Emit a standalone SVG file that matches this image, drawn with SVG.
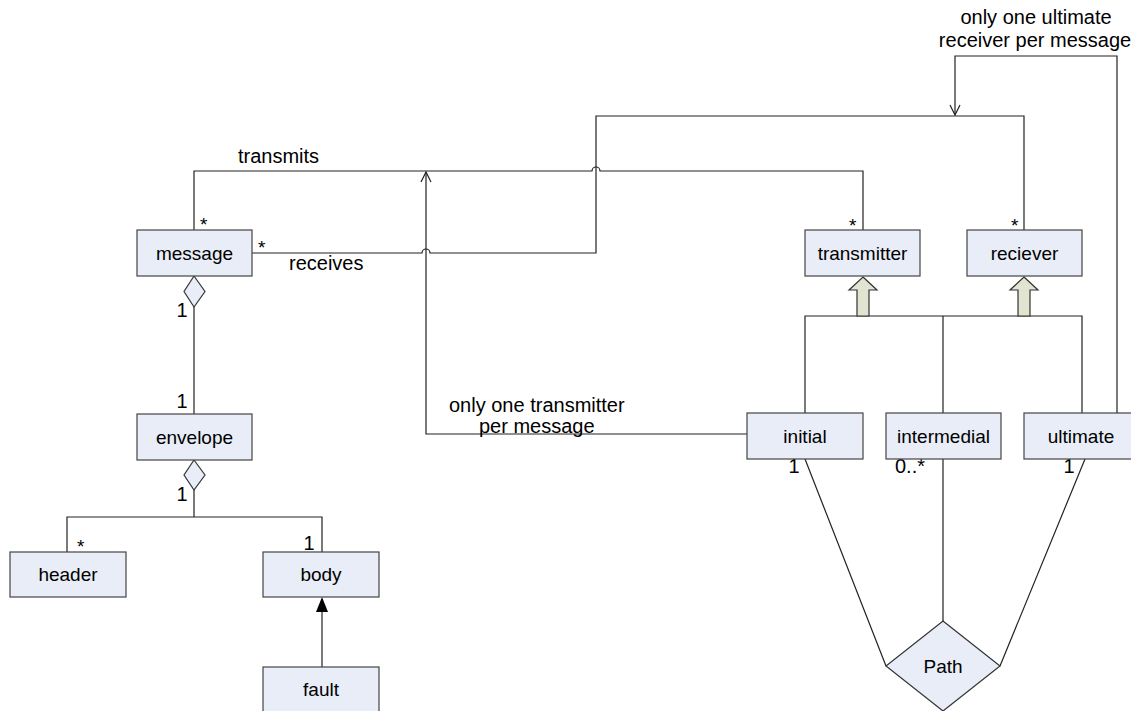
<svg xmlns="http://www.w3.org/2000/svg" width="1131" height="711" viewBox="0 0 1131 711">
<style>
.box{fill:#e8edf7;stroke:#444;stroke-width:1.2}
.t{font-family:"Liberation Sans",Arial,sans-serif;font-size:19px;fill:#000;text-anchor:middle}
.l{font-family:"Liberation Sans",Arial,sans-serif;font-size:20px;fill:#000}
.m{font-family:"Liberation Sans",Arial,sans-serif;font-size:19px;fill:#000}
.ln{fill:none;stroke:#222;stroke-width:1.2}
.dia{fill:#e8edf7;stroke:#333;stroke-width:1.2}
.gen{fill:#e0e4d0;stroke:#333;stroke-width:1.2}
</style>
<defs>
<marker id="open" viewBox="0 0 12 12" refX="11" refY="6" markerWidth="12" markerHeight="12" markerUnits="userSpaceOnUse" orient="auto">
<path d="M1,1 L11,6 L1,11" fill="none" stroke="#222" stroke-width="1.2"/>
</marker>
</defs>
<rect width="1131" height="711" fill="#fff"/>
<g id="connectors">
<path class="ln" d="M194,230 V171 H592 A4,4 0 0 1 600,171 H863 V230"/>
<path class="ln" d="M252,253 H422 A4,4 0 0 1 430,253 H596 V116 H1024 V230"/>
<path class="ln" d="M747,434 H426 V172" marker-end="url(#open)"/>
<path class="ln" d="M1117,413 V56 H955 V115" marker-end="url(#open)"/>
<path class="ln" d="M805,413 V316 H1082 V413 M943,316 V413"/>
<polygon class="gen" points="863,277 877,290 869,290 869,316 857,316 857,290 849,290"/>
<polygon class="gen" points="1024,277 1038,290 1030,290 1030,316 1018,316 1018,290 1010,290"/>
<path class="ln" d="M194,307 V414"/>
<polygon class="dia" points="194,276 205,291.5 194,307 184,291.5"/>
<path class="ln" d="M194,490 V517 M67,552 V517 H322 V552"/>
<polygon class="dia" points="194,460 205,475 194,490 184,475"/>
<path class="ln" d="M322,667 V612"/>
<polygon fill="#000" points="322,597 328,612 316,612"/>
<path class="ln" d="M805,459 L886,666 M943,459 V621 M1085,459 L1000,666"/>
<text class="m" x="200" y="231">*</text>
<text class="m" x="258" y="254">*</text>
<text class="m" x="849" y="232">*</text>
<text class="m" x="1011" y="232">*</text>
<text class="l" x="238" y="163">transmits</text>
<text class="l" x="289" y="270">receives</text>
<text class="l" x="449" y="412">only one transmitter</text>
<text class="l" x="479" y="433">per message</text>
<text class="l" x="1036" y="24" text-anchor="middle">only one ultimate</text>
<text class="l" x="1035" y="47" text-anchor="middle">receiver per message</text>
<text class="t" x="182" y="317" style="font-size:20px">1</text>
<text class="t" x="182" y="408" style="font-size:20px">1</text>
<text class="t" x="182" y="501" style="font-size:20px">1</text>
<text class="m" x="77" y="553">*</text>
<text class="t" x="309" y="550" style="font-size:20px">1</text>
<text class="t" x="794" y="473" style="font-size:20px">1</text>
<text class="m" x="895" y="473" style="font-size:20px">0..*</text>
<text class="t" x="1069" y="473" style="font-size:20px">1</text>
</g>
<g id="message"><rect class="box" x="137" y="230" width="115" height="46"/><text class="t" x="194.5" y="260">message</text></g>
<g id="envelope"><rect class="box" x="137" y="414" width="115" height="46"/><text class="t" x="194.5" y="444">envelope</text></g>
<g id="header"><rect class="box" x="10" y="552" width="116" height="45"/><text class="t" x="68" y="581">header</text></g>
<g id="body"><rect class="box" x="263" y="552" width="116" height="45"/><text class="t" x="321" y="581">body</text></g>
<g id="fault"><rect class="box" x="263" y="667" width="116" height="50"/><text class="t" x="321" y="696">fault</text></g>
<g id="transmitter"><rect class="box" x="805" y="230" width="115" height="46"/><text class="t" x="862.5" y="260">transmitter</text></g>
<g id="reciever"><rect class="box" x="967" y="230" width="115" height="46"/><text class="t" x="1024.5" y="260">reciever</text></g>
<g id="initial"><rect class="box" x="747" y="413" width="116" height="46"/><text class="t" x="805" y="443">initial</text></g>
<g id="intermedial"><rect class="box" x="886" y="413" width="115" height="46"/><text class="t" x="943.5" y="443">intermedial</text></g>
<g id="ultimate"><rect class="box" x="1024" y="413" width="115" height="46"/><text class="t" x="1081" y="443">ultimate</text></g>
<g id="path"><polygon class="dia" points="943,621 1000,666 943,711 886,666"/><text class="t" x="943" y="673">Path</text></g>
</svg>
